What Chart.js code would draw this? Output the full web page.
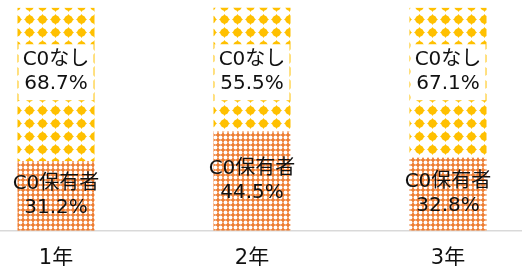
<!DOCTYPE html>
<html>
<head>
<meta charset="utf-8">
<script src="https://cdn.jsdelivr.net/npm/chart.js@4/dist/chart.umd.min.js"></script>
<style>
  html, body { margin: 0; padding: 0; background: #fff; }
  #frame { position: relative; width: 522px; height: 266px; overflow: hidden; }
  #wrap { position: absolute; left: -42px; top: 0; width: 588px; height: 290px; }
</style>
</head>
<body>
<div id="frame"><div id="wrap"><canvas id="chart"></canvas></div></div>
<script>
const years = ['1年', '2年', '3年']
const seriesNames = ['C0保有者', 'C0なし']
const holders = [31.2, 44.5, 32.8]
const none = [68.7, 55.5, 67.1]

// yellow rounded-diamond pattern
function dotPattern () {
  const c = document.createElement('canvas')
  c.width = 13
  c.height = 13
  const g = c.getContext('2d')
  g.fillStyle = '#fff'
  g.fillRect(0, 0, 13, 13)
  g.fillStyle = '#FFC000'
  g.beginPath()
  g.moveTo(6.5, 1)
  g.quadraticCurveTo(8.2, 4.8, 12, 6.5)
  g.quadraticCurveTo(8.2, 8.2, 6.5, 12)
  g.quadraticCurveTo(4.8, 8.2, 1, 6.5)
  g.quadraticCurveTo(4.8, 4.8, 6.5, 1)
  g.fill()
  g.beginPath()
  g.arc(6.5, 6.5, 4.1, 0, Math.PI * 2)
  g.fill()
  return g.createPattern(c, 'repeat')
}

// fine orange lattice
function latticePattern () {
  const c = document.createElement('canvas')
  c.width = 5
  c.height = 5
  const g = c.getContext('2d')
  g.fillStyle = '#EE7E33'
  g.fillRect(0, 0, 5, 5)
  g.fillStyle = '#fff'
  g.beginPath()
  g.arc(2.5, 2.5, 1.9, 0, Math.PI * 2)
  g.fill()
  return g.createPattern(c, 'repeat')
}

const fontFamily = '"DejaVu Sans", "Noto Sans CJK JP", sans-serif'
const labelFont = '20px ' + fontFamily

const barLabels = {
  id: 'barLabels',
  afterDatasetsDraw (chart, args, opts) {
    const ctx = chart.ctx
    const yScale = chart.scales.y
    ctx.save()
    ctx.font = labelFont
    ctx.textAlign = 'center'
    ctx.textBaseline = 'middle'
    chart.data.datasets.forEach((ds, i) => {
      chart.getDatasetMeta(i).data.forEach((bar, j) => {
        let cy = (bar.y + bar.base) / 2
        if (i === 1) {
          cy = yScale.getPixelForValue(opts.topAnchor)
          ctx.fillStyle = '#fff'
          ctx.fillRect(bar.x - bar.width / 2 + 1, cy - 28, bar.width - 2, 56)
        }
        ctx.fillStyle = '#111'
        ctx.fillText(ds.label, bar.x, cy - 12)
        ctx.fillText(ds.data[j].toFixed(1) + '%', bar.x, cy + 12)
      })
    })
    ctx.restore()
  }
}

new Chart(document.getElementById('chart'), {
  type: 'bar',
  data: {
    labels: years,
    datasets: [
      { label: seriesNames[0], data: holders, backgroundColor: latticePattern() },
      { label: seriesNames[1], data: none, backgroundColor: dotPattern() }
    ]
  },
  options: {
    responsive: true,
    maintainAspectRatio: false,
    animation: false,
    events: [],
    layout: { padding: { top: 7.5, bottom: 4, left: 0, right: 0 } },
    datasets: { bar: { barPercentage: 0.393, categoryPercentage: 1 } },
    plugins: {
      legend: { display: false },
      tooltip: { enabled: false },
      barLabels: { topAnchor: 71 }
    },
    scales: {
      x: {
        stacked: true,
        grid: { display: false, drawTicks: false },
        border: { display: true, color: '#d9d9d9', width: 1.5 },
        ticks: {
          color: '#111',
          padding: 15,
          font: { size: 21, family: fontFamily }
        }
      },
      y: { stacked: true, display: false, min: 0, max: 100 }
    }
  },
  plugins: [barLabels]
})
</script>
</body>
</html>
